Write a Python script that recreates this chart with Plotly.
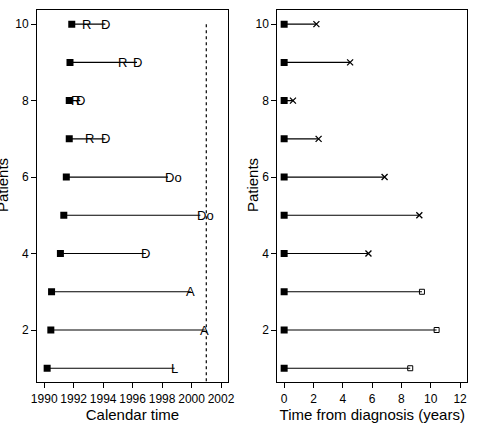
import plotly.graph_objects as go

patients = [1, 2, 3, 4, 5, 6, 7, 8, 9, 10]
start_cal = [1990.2, 1990.45, 1990.5, 1991.1, 1991.33, 1991.5, 1991.7, 1991.7, 1991.75, 1991.87]
end_cal = [1998.85, 2000.9, 1999.95, 1996.9, 2000.6, 1998.4, 1994.15, 1992.45, 1996.3, 1994.15]
end_label = ["L", "A", "A", "D", "Do", "Do", "D", "D", "D", "D"]
relapse_cal = [None, None, None, None, None, None, 1993.1, 1992.1, 1995.3, 1992.9]
cutoff_year = 2001.0
follow_years = [8.6, 10.4, 9.4, 5.75, 9.22, 6.85, 2.35, 0.6, 4.5, 2.2]
died = [False, False, False, True, True, True, True, True, True, True]

x_ticks_left = [1990, 1992, 1994, 1996, 1998, 2000, 2002]
x_ticks_right = [0, 2, 4, 6, 8, 10, 12]
y_ticks = [2, 4, 6, 8, 10]

FONT = "Liberation Sans, Arial, sans-serif"
fig = go.Figure()

# left panel lines
for p, s, e in zip(patients, start_cal, end_cal):
    fig.add_trace(go.Scatter(x=[s, e], y=[p, p], mode="lines",
                             line=dict(color="black", width=1.1),
                             xaxis="x", yaxis="y", showlegend=False, hoverinfo="skip"))
fig.add_trace(go.Scatter(x=start_cal, y=patients, mode="markers",
                         marker=dict(symbol="square", size=7, color="black"),
                         xaxis="x", yaxis="y", showlegend=False))
fig.add_trace(go.Scatter(x=[cutoff_year, cutoff_year], y=[10, 0.64], mode="lines",
                         line=dict(color="black", width=1.2, dash="dot"),
                         xaxis="x", yaxis="y", showlegend=False))

annotations = []
for p, e, lab in zip(patients, end_cal, end_label):
    if lab == "Do":
        annotations.append(dict(x=e, y=p, xref="x", yref="y", text=lab, showarrow=False,
                                xanchor="left", xshift=-5, yanchor="middle",
                                font=dict(family=FONT, size=13, color="black")))
    else:
        annotations.append(dict(x=e, y=p, xref="x", yref="y", text=lab, showarrow=False,
                                xanchor="center", yanchor="middle",
                                font=dict(family=FONT, size=13, color="black")))
for p, r in zip(patients, relapse_cal):
    if r is not None:
        annotations.append(dict(x=r, y=p, xref="x", yref="y", text="R", showarrow=False,
                                xanchor="center", yanchor="middle",
                                font=dict(family=FONT, size=13, color="black")))

# right panel
for p, f in zip(patients, follow_years):
    fig.add_trace(go.Scatter(x=[0, f], y=[p, p], mode="lines",
                             line=dict(color="black", width=1.1),
                             xaxis="x2", yaxis="y2", showlegend=False, hoverinfo="skip"))
fig.add_trace(go.Scatter(x=[0] * len(patients), y=patients, mode="markers",
                         marker=dict(symbol="square", size=7, color="black"),
                         xaxis="x2", yaxis="y2", showlegend=False))
fig.add_trace(go.Scatter(x=[f for f, d in zip(follow_years, died) if d],
                         y=[p for p, d in zip(patients, died) if d], mode="markers",
                         marker=dict(symbol="x-thin", size=6, color="black",
                                     line=dict(width=1.3, color="black")),
                         xaxis="x2", yaxis="y2", showlegend=False))
fig.add_trace(go.Scatter(x=[f for f, d in zip(follow_years, died) if not d],
                         y=[p for p, d in zip(patients, died) if not d], mode="markers",
                         marker=dict(symbol="square-open", size=5, color="black",
                                     line=dict(width=1)),
                         xaxis="x2", yaxis="y2", showlegend=False))

annotations.append(dict(x=-4 / 478, y=1 - 185 / 424, xref="paper", yref="paper", text="Patients",
                        textangle=-90, showarrow=False, xanchor="center", yanchor="middle",
                        font=dict(family=FONT, size=15, color="black")))
annotations.append(dict(x=253 / 478, y=1 - 185 / 424, xref="paper", yref="paper", text="Patients",
                        textangle=-90, showarrow=False, xanchor="center", yanchor="middle",
                        font=dict(family=FONT, size=15, color="black")))

axis_common = dict(showgrid=False, zeroline=False, showline=True, mirror=True,
                   linecolor="black", linewidth=1.3, ticks="outside", ticklen=5,
                   tickcolor="black", tickwidth=1,
                   tickfont=dict(family=FONT, size=12, color="black"))

fig.update_layout(
    width=478, height=424, margin=dict(l=0, r=0, t=0, b=0),
    paper_bgcolor="white", plot_bgcolor="white",
    xaxis=dict(domain=[32 / 478, 228 / 478], range=[1989.52, 2002.46],
               tickvals=x_ticks_left, ticktext=[str(v) for v in x_ticks_left],
               title=dict(text="Calendar time", font=dict(family=FONT, size=15, color="black"),
                          standoff=3),
               anchor="y", **axis_common),
    yaxis=dict(domain=[1 - 382 / 424, 1 - 10 / 424], range=[0.64, 10.37],
               tickvals=y_ticks, ticktext=[str(v) for v in y_ticks],
               anchor="x", **axis_common),
    xaxis2=dict(domain=[279 / 478, 474 / 478], range=[-0.46, 12.48],
                tickvals=x_ticks_right, ticktext=[str(v) for v in x_ticks_right],
                title=dict(text="Time from diagnosis (years)",
                           font=dict(family=FONT, size=15, color="black"), standoff=3),
                anchor="y2", **axis_common),
    yaxis2=dict(domain=[1 - 382 / 424, 1 - 10 / 424], range=[0.64, 10.37],
                tickvals=y_ticks, ticktext=[str(v) for v in y_ticks],
                anchor="x2", **axis_common),
    annotations=annotations,
)

fig.write_html("out.html")
